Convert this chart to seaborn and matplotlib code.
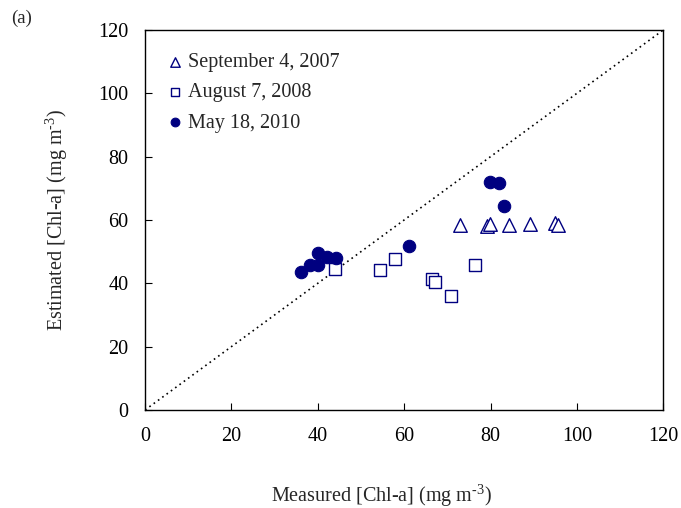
import numpy as np
import pandas as pd
import matplotlib
matplotlib.use("Agg")
import matplotlib.pyplot as plt
import seaborn as sns

# Measured vs estimated Chl-a
sep2007_measured = [73.0, 79.1, 79.9, 84.2, 89.1, 94.9, 95.6]
sep2007_estimated = [58.4, 58.1, 58.6, 58.4, 58.7, 59.1, 58.5]

aug2008_measured = [44.0, 54.4, 57.8, 66.5, 67.2, 70.8, 76.4]
aug2008_estimated = [44.5, 44.1, 47.8, 41.3, 40.5, 36.0, 45.8]

may2010_measured = [36.1, 38.1, 40.0, 40.1, 42.2, 44.2, 61.2, 79.9, 82.0, 83.0]
may2010_estimated = [43.7, 45.8, 45.7, 49.6, 48.2, 47.9, 51.7, 71.9, 71.6, 64.3]

axis_ticks = [0, 20, 40, 60, 80, 100, 120]
NAVY = '#000080'
FS = 14.5

sns.set_style('white')
plt.rcParams['font.family'] = ['Liberation Serif', 'DejaVu Serif']
plt.rcParams['mathtext.fontset'] = 'custom'
plt.rcParams['mathtext.rm'] = 'Liberation Serif'

fig = plt.figure(figsize=(6.81, 5.08), dpi=100)
ax = fig.add_axes([0.213, 0.193, 0.761, 0.748])

# 1:1 line
ax.plot([0, 120], [0, 120], color='black', linestyle=(0, (1, 2.2)), linewidth=1.2, zorder=1)

sns.scatterplot(x=sep2007_measured, y=sep2007_estimated, marker='^', s=95,
                facecolor='white', edgecolor=NAVY, linewidth=1.0,
                label='September 4, 2007', ax=ax, zorder=3)
sns.scatterplot(x=aug2008_measured, y=aug2008_estimated, marker='s', s=75,
                facecolor='white', edgecolor=NAVY, linewidth=1.0,
                label='August 7, 2008', ax=ax, zorder=3)
sns.scatterplot(x=may2010_measured, y=may2010_estimated, marker='o', s=80,
                facecolor=NAVY, edgecolor=NAVY, linewidth=0.8,
                label='May 18, 2010', ax=ax, zorder=4)

ax.set_xlim(0, 120)
ax.set_ylim(0, 120)
ax.set_xticks(axis_ticks)
ax.set_yticks(axis_ticks)
ax.tick_params(direction='in', length=5, width=0.8, labelsize=FS,
               bottom=True, left=True, top=False, right=False, colors='black')
ax.tick_params(axis='x', pad=12)
ax.tick_params(axis='y', pad=12)
for sp in ax.spines.values():
    sp.set_color('black')
    sp.set_linewidth(1.0)

ax.set_xlabel('Measured [Chl-a] (mg m$^{\\text{-3}}$)', fontsize=FS)
ax.xaxis.set_label_coords(0.456, -0.19)
ax.set_ylabel('Estimated [Chl-a] (mg m$^{\\text{-3}}$)', fontsize=FS, labelpad=20)

leg = ax.legend(loc='upper left', frameon=False, fontsize=FS,
                handletextpad=0.15, labelspacing=0.55, handlelength=1.0,
                markerscale=0.7, borderaxespad=0.0, bbox_to_anchor=(0.023, 0.96))

fig.text(0.016, 0.963, '(a)', fontsize=FS - 1, ha='left', va='center')

fig.savefig('out.png', dpi=100)
